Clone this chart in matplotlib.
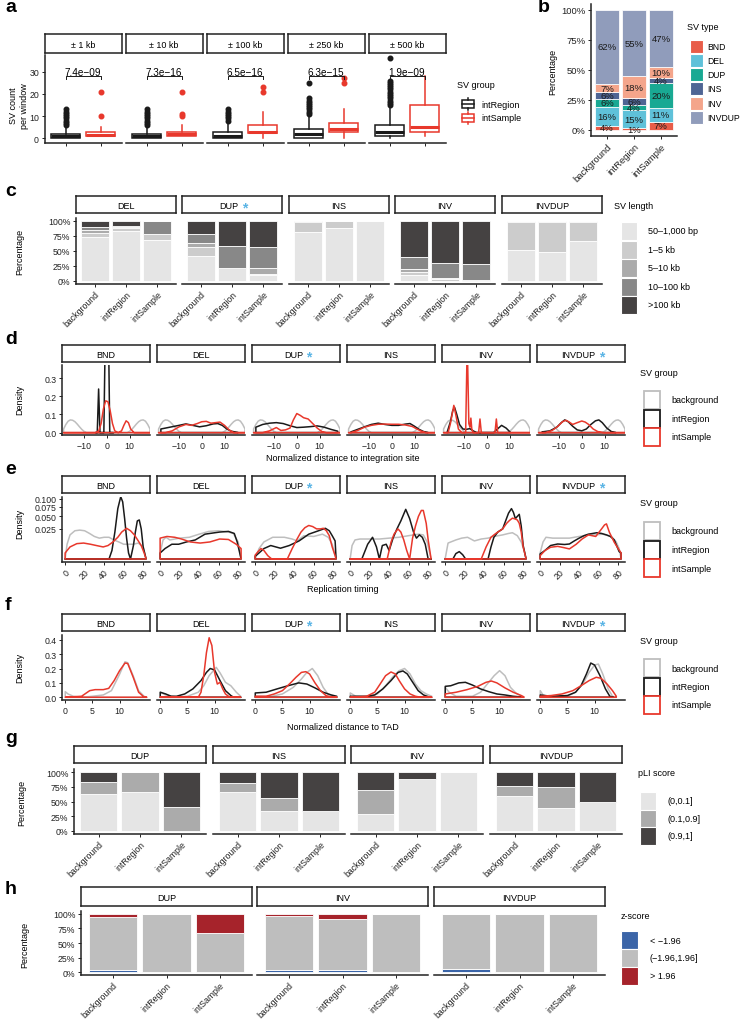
import numpy as np
import matplotlib
matplotlib.use('Agg')
import matplotlib.pyplot as plt
from matplotlib.patches import Rectangle
from matplotlib.lines import Line2D
from matplotlib.ticker import NullLocator

plt.rcParams['font.family'] = ['Liberation Sans', 'DejaVu Sans']
plt.rcParams['font.size'] = 6.5

# --- 1. data ---
groups = ['background', 'intRegion', 'intSample']
sv_types = ['BND', 'DEL', 'DUP', 'INS', 'INV', 'INVDUP']
starred_c = ['DUP']
starred_def = ['DUP', 'INVDUP']

# a: SV count per window (box stats: whislo, q1, median, q3, whishi)
windows = ['± 1 kb', '± 10 kb', '± 100 kb', '± 250 kb', '± 500 kb']
p_values = ['7.4e\u221209', '7.3e\u221216', '6.5e\u221216', '6.3e\u221215', '1.9e\u221209']
p_height = 28
region_box = [[0, 0, 1, 2, 5], [0, 0, 1, 2, 5], [0, 0, 1, 3, 7], [0, 0, 2, 4, 10], [0, 1, 3, 6, 14]]
sample_box = [[1, 1, 1.5, 3, 5], [1, 1, 2, 3, 6], [0, 2.5, 3, 6, 12], [0, 3, 4, 7, 13], [1, 3, 5, 15, 28]]
region_out = [[6, 7, 8, 9, 10, 11, 12, 13],
              [6, 7, 8, 9, 10, 11, 12, 13],
              [8, 9, 10, 11, 12, 13],
              [11, 12, 13, 14, 15, 16, 17, 18, 25],
              [15, 16, 17, 18, 19, 20, 21, 22, 23, 24, 25, 26, 36]]
sample_out = [[10, 21], [10, 11, 21], [21, 23], [25, 27], []]

# b: SV type share (%) per group, order of sv_types
type_share = [[3.7, 15.8, 6.2, 5.9, 6.6, 61.8],
              [1.3, 15.2, 4.3, 5.9, 17.9, 55.4],
              [6.9, 11.4, 20.4, 4.2, 9.7, 47.4]]

# c: SV length share (%) per type and group
length_bins = ['50\u20131,000 bp', '1\u20135 kb', '5\u201310 kb', '10\u2013100 kb', '>100 kb']
length_types = ['DEL', 'DUP', 'INS', 'INV', 'INVDUP']
length_share = {
    'DEL': [[72, 8, 5, 5, 10], [82, 5, 2, 2, 9], [68, 9, 0, 23, 0]],
    'DUP': [[41, 15, 6, 15, 23], [21, 0, 0, 36, 43], [9, 2, 10, 35, 44]],
    'INS': [[81, 16, 1, 1, 1], [88, 12, 0, 0, 0], [100, 0, 0, 0, 0]],
    'INV': [[9, 6, 5, 19, 61], [0, 2, 2, 26, 70], [0, 0, 1, 26, 73]],
    'INVDUP': [[51, 46, 2, 1, 0], [47, 51, 2, 0, 0], [66, 32, 2, 0, 0]],
}

# d: density of normalized distance to integration site
d_bg_x = [-19, -18, -17, -16, -15, -14, -13, -12, -11, -10, -9, 9, 10, 11, 12, 13, 14, 15, 16, 17, 18, 19]
d_bg_y = [0.02, 0.045, 0.063, 0.07, 0.068, 0.06, 0.047, 0.032, 0.018, 0.007, 0.0,
          0.0, 0.007, 0.018, 0.032, 0.047, 0.06, 0.068, 0.07, 0.063, 0.045, 0.02]
d_region = {
    'BND': ([-5, -4.2, -3.6, -3.0, -1.3, -0.6, 0.7, 1.3, 3], [0, 0, 0.24, 0, 0, 0.6, 0.6, 0, 0]),
    'DEL': ([-18, -14, -10, -7, -4, -1, 2, 5, 7, 9, 11, 13, 16],
            [0.02, 0.03, 0.04, 0.048, 0.04, 0.032, 0.038, 0.048, 0.05, 0.04, 0.02, 0.008, 0]),
    'DUP': ([-18, -15, -12, -9, -6, -3, 0, 3, 6, 9, 12, 15, 18],
            [0.03, 0.045, 0.052, 0.055, 0.05, 0.038, 0.028, 0.03, 0.033, 0.037, 0.03, 0.018, 0.008]),
    'INS': ([-18, -15, -12, -9, -6, -3, 0, 3, 6, 8, 10, 12, 14, 16],
            [0.004, 0.018, 0.032, 0.045, 0.052, 0.045, 0.04, 0.04, 0.047, 0.05, 0.035, 0.018, 0.006, 0]),
    'INV': ([-17.5, -16, -15, -14.2, -13.2, -12, -10.5, -9, -7.5, -6, -4.5, 3, 4.5, 6.5, 8.5, 10.5],
            [0, 0.06, 0.12, 0.14, 0.1, 0.045, 0.02, 0.018, 0.022, 0.01, 0, 0, 0.018, 0.04, 0.025, 0]),
    'INVDUP': ([-17.5, -14, -11, -9, -7.5, -6, -4, -2, 0, 2, 4, 6, 7.5, 9, 11, 13, 15],
               [0.004, 0.01, 0.03, 0.055, 0.07, 0.06, 0.035, 0.015, 0.01, 0.02, 0.045, 0.065, 0.07, 0.055, 0.025, 0.006, 0]),
}
d_sample = {
    'BND': ([-19, -5, -3.5, -2.5, -1.5, -0.5, 0.5, 1.5, 2.5, 3.5, 5, 6.5, 7.5, 8.5, 9.5, 10.5, 12, 19],
            [0, 0, 0.01, 0.05, 0.13, 0.175, 0.17, 0.12, 0.05, 0.01, 0, 0.01, 0.04, 0.065, 0.055, 0.02, 0, 0]),
    'DEL': ([-19, -16, -13, -10, -7, -4.5, -2, 0, 2, 4, 6, 8, 10, 12, 14, 19],
            [0, 0, 0.01, 0.032, 0.045, 0.04, 0.05, 0.06, 0.062, 0.052, 0.055, 0.058, 0.04, 0.015, 0, 0]),
    'DUP': ([-19, -15, -12, -9, -7, -5, -3, -1.5, 0, 1.5, 3, 5, 7, 9, 11, 13, 19],
            [0, 0, 0.01, 0.028, 0.012, 0.015, 0.025, 0.07, 0.105, 0.095, 0.082, 0.075, 0.05, 0.025, 0.006, 0, 0]),
    'INS': ([-19, -18, -15, -12, -9, -6, -3, 0, 3, 6, 9, 11, 13, 15, 19],
            [0, 0, 0.012, 0.03, 0.04, 0.046, 0.047, 0.046, 0.046, 0.042, 0.034, 0.02, 0.008, 0, 0]),
    'INV': ([-19, -17, -16, -14.5, -13.5, -12.5, -11, -9.3, -8.6, -7.9, -7.4, -7, -6.6, -6, -3.6, -3,
             -2.4, 3.6, 4.2, 4.8, 6, 19],
            [0, 0, 0.05, 0.15, 0.09, 0.02, 0, 0, 0.5, 0.05, 0.03, 0.08, 0.02, 0, 0, 0.075,
             0, 0, 0.075, 0, 0, 0]),
    'INVDUP': ([-19, -16, -13, -10.5, -8.5, -7, -5.5, -4, -2, 0, 1.5, 3, 5, 7, 9.5, 19],
               [0, 0, 0.012, 0.035, 0.06, 0.068, 0.058, 0.045, 0.055, 0.064, 0.058, 0.045, 0.02, 0.006, 0, 0]),
}

# e: density of replication timing
e_background = {
    'BND': ([0, 2, 5, 10, 15, 20, 25, 30, 35, 40, 45, 50, 55, 60, 65, 70, 75, 80, 83],
            [0, 0.006, 0.016, 0.022, 0.023, 0.022, 0.018, 0.014, 0.012, 0.013, 0.013, 0.01, 0.008,
             0.006, 0.006, 0.006, 0.007, 0.004, 0]),
    'DEL': ([0, 3, 6, 10, 15, 20, 30, 40, 50, 60, 70, 75, 80, 83],
            [0.001, 0.01, 0.013, 0.01, 0.011, 0.012, 0.013, 0.017, 0.021, 0.022, 0.02, 0.018, 0.008, 0]),
    'DUP': ([0, 4, 9, 18, 30, 38, 43, 50, 60, 69, 75, 79, 83],
            [0.0, 0.003, 0.008, 0.013, 0.013, 0.011, 0.009, 0.015, 0.014, 0.017, 0.013, 0.006, 0]),
    'INS': ([0, 2, 5, 10, 20, 30, 40, 50, 60, 65, 70, 75, 79, 83],
            [0, 0.005, 0.01, 0.011, 0.011, 0.011, 0.012, 0.013, 0.015, 0.016, 0.017, 0.016, 0.008, 0]),
    'INV': ([0, 3, 11, 17, 23, 30, 37, 44, 50, 59, 65, 69, 74, 78, 81, 83],
            [0, 0.007, 0.01, 0.012, 0.013, 0.009, 0.011, 0.012, 0.014, 0.016, 0.018, 0.019, 0.015,
             0.008, 0.002, 0]),
    'INVDUP': ([0, 3, 6, 13, 20, 30, 40, 49.5, 57, 64, 70, 74, 78, 81, 83],
               [0.001, 0.008, 0.013, 0.012, 0.012, 0.012, 0.014, 0.016, 0.016, 0.017, 0.015, 0.013,
                0.008, 0.003, 0]),
}
e_region = {
    'BND': ([0, 45, 48, 51, 54, 57, 59, 61, 63, 65, 67, 70, 72, 74, 76, 78, 80, 83],
            [0, 0, 0.002, 0.02, 0.07, 0.107, 0.09, 0.045, 0.012, 0.001, 0, 0.005, 0.02, 0.04, 0.042,
             0.025, 0.004, 0]),
    'DEL': ([0, 5, 12, 19, 27, 36, 46, 51, 61, 70, 76, 79, 83],
            [0.001, 0.003, 0.006, 0.006, 0.008, 0.01, 0.017, 0.018, 0.02, 0.021, 0.018, 0.008, 0]),
    'DUP': ([0, 4, 9, 16, 26, 35, 45, 55, 65, 72, 76, 79, 82, 83],
            [0.0002, 0.001, 0.003, 0.005, 0.0032, 0.005, 0.009, 0.017, 0.022, 0.026, 0.022, 0.015,
             0.009, 0]),
    'INS': ([0, 12, 18, 23, 27, 30, 33, 37, 40, 44, 48, 52, 57, 61, 65, 68, 71, 74, 77, 80, 83],
            [0, 0, 0.006, 0.013, 0.004, 0, 0.005, 0.006, 0.002, 0.012, 0.025, 0.04, 0.068, 0.045,
             0.02, 0.012, 0.016, 0.013, 0.006, 0, 0]),
    'INV': ([0, 8, 11, 14.5, 18, 21, 44, 47, 50, 54, 59, 62, 65, 68, 70, 72, 74, 76, 78, 80, 83],
            [0, 0, 0.0008, 0.0015, 0.0005, 0, 0, 0.004, 0.013, 0.02, 0.025, 0.04, 0.058, 0.07, 0.06,
             0.045, 0.05, 0.055, 0.03, 0.005, 0]),
    'INVDUP': ([0, 5, 10.7, 18, 25, 30, 35, 40, 45, 49.5, 54, 58, 63, 68, 72, 76, 79, 81, 83],
               [0.0007, 0.002, 0.005, 0.0062, 0.0058, 0.0062, 0.009, 0.012, 0.015, 0.017, 0.018, 0.019,
                0.018, 0.016, 0.014, 0.01, 0.004, 0.0015, 0.001]),
}
e_sample = {
    'BND': ([0, 5, 12, 19, 26, 32, 39, 44, 49, 54, 58, 63, 67, 71, 75, 78, 81, 83],
            [0.001, 0.004, 0.0065, 0.007, 0.006, 0.005, 0.004, 0.005, 0.008, 0.013, 0.02, 0.026,
             0.022, 0.016, 0.009, 0.005, 0.001, 0]),
    'DEL': ([0, 7, 15, 22, 31, 41, 51, 61, 70, 78, 83],
            [0.012, 0.014, 0.013, 0.011, 0.008, 0.007, 0.008, 0.011, 0.0105, 0.006, 0.003]),
    'DUP': ([0, 3, 6, 9, 13, 17, 25, 33, 38, 43, 47, 51, 55, 59, 63, 67, 70, 73, 76, 79, 82, 83],
            [0.0004, 0.0015, 0.003, 0.002, 0.0003, 0, 0, 0, 0.003, 0.011, 0.02, 0.027, 0.031, 0.029,
             0.025, 0.025, 0.026, 0.022, 0.015, 0.004, 0.0003, 0]),
    'INS': ([0, 38, 42, 45, 49, 52, 55, 58, 61, 64, 67, 70, 73, 75, 78, 80, 83],
            [0, 0, 0.008, 0.017, 0.025, 0.02, 0.01, 0.002, 0, 0.012, 0.03, 0.05, 0.065, 0.065, 0.035,
             0.01, 0]),
    'INV': ([0, 37, 42, 47, 51, 54, 59, 63, 66, 69, 72, 74, 76, 78, 80, 83],
            [0, 0, 0.004, 0.013, 0.017, 0.02, 0.025, 0.035, 0.041, 0.046, 0.044, 0.042, 0.035, 0.02,
             0.004, 0]),
    'INVDUP': ([0, 5, 10.7, 18, 24, 30, 37, 43, 49.5, 57, 63, 66, 68, 71, 76, 80, 83],
               [0.0003, 0.002, 0.0038, 0.0044, 0.0036, 0.0028, 0.006, 0.011, 0.016, 0.014, 0.025,
                0.032, 0.034, 0.0197, 0.0077, 0.003, 0.001]),
}

# f: density of normalized distance to TAD
f_background = {
    'BND': ([0, 0.5, 1.5, 3, 5, 7, 8.5, 10, 11, 11.5, 12.5, 13.5, 14.5, 15],
            [0.039, 0.023, 0.007, 0, 0.007, 0.016, 0.046, 0.16, 0.247, 0.24, 0.15, 0.046, 0.007, 0]),
    'DEL': ([0, 1, 3, 5, 7, 8, 9, 10.3, 11, 12, 13, 14, 14.8],
            [0.035, 0.016, 0.002, 0.007, 0.035, 0.08, 0.15, 0.208, 0.17, 0.104, 0.08, 0.035, 0.007]),
    'DUP': ([0, 3, 5, 7, 8.5, 9.5, 10.5, 11.5, 12.5, 13.5, 14.5],
            [0.007, 0.007, 0.023, 0.069, 0.127, 0.173, 0.2, 0.15, 0.069, 0.016, 0.007]),
    'INS': ([0, 1, 3, 5, 6.5, 8, 9, 10, 11, 12, 13, 14, 15],
            [0.03, 0.007, 0.002, 0.023, 0.08, 0.15, 0.185, 0.2, 0.162, 0.092, 0.046, 0.023, 0.007]),
    'INV': ([0, 0.7, 2, 5, 6.5, 8, 9, 10, 11, 12, 13, 14],
            [0.069, 0.035, 0.007, 0.007, 0.035, 0.104, 0.15, 0.185, 0.15, 0.069, 0.03, 0.007]),
    'INVDUP': ([0, 0.5, 1.5, 5, 6.5, 8, 9, 10, 10.7, 11.5, 12.5, 13.3, 14],
               [0.046, 0.016, 0.002, 0.007, 0.035, 0.104, 0.173, 0.224, 0.231, 0.162, 0.058, 0.007, 0]),
}
f_region = {
    'DEL': ([0, 1, 2, 3, 4.5, 6, 7.5, 8.5, 9.2, 10, 11, 12, 13, 13.5, 14.8],
            [0.035, 0.023, 0.007, 0.007, 0.023, 0.058, 0.116, 0.173, 0.2, 0.19, 0.116, 0.046, 0.012, 0, 0]),
    'DUP': ([0, 2, 4, 6, 8, 9.5, 11, 12.5, 14, 15],
            [0.03, 0.035, 0.058, 0.08, 0.1, 0.092, 0.065, 0.035, 0.016, 0.007]),
    'INS': ([0, 3, 4.5, 6, 7.5, 8.8, 9.7, 10.5, 11.5, 12.5, 13.5, 14.5],
            [0.007, 0.007, 0.016, 0.058, 0.116, 0.173, 0.183, 0.162, 0.104, 0.046, 0.016, 0.002]),
    'INV': ([0, 1, 2.5, 3.7, 5, 6.5, 8, 9.5, 11, 12.5, 14],
            [0.076, 0.08, 0.1, 0.104, 0.085, 0.058, 0.039, 0.023, 0.016, 0.007, 0.002]),
    'INVDUP': ([0, 2, 5, 6.5, 7.5, 8.5, 9.3, 10, 11, 12, 12.8, 13.5],
               [0.016, 0.007, 0.012, 0.035, 0.08, 0.162, 0.238, 0.224, 0.15, 0.058, 0.007, 0]),
}
f_sample = {
    'BND': ([0, 3, 4.5, 5.5, 7, 8, 9, 10, 11, 11.5, 12.5, 13.5, 14.5, 15],
            [0, 0.007, 0.046, 0.053, 0.053, 0.062, 0.116, 0.185, 0.238, 0.235, 0.14, 0.035, 0.002, 0]),
    'DEL': ([0, 7, 7.5, 8, 8.5, 9, 9.5, 10, 10.5, 11, 11.5, 12, 12.8, 14.8],
            [0, 0, 0.035, 0.15, 0.31, 0.414, 0.36, 0.173, 0.092, 0.104, 0.058, 0.023, 0, 0]),
    'DUP': ([0, 2, 3.5, 5, 6.5, 7.5, 8.5, 9.3, 10, 11, 12, 13, 14, 15],
            [0.007, 0.007, 0.023, 0.046, 0.1, 0.139, 0.173, 0.178, 0.162, 0.1, 0.046, 0.012, 0, 0]),
    'INS': ([0, 3, 4.5, 5.5, 6.5, 7.5, 8.3, 9, 10, 11, 12, 13, 15],
            [0, 0.007, 0.035, 0.092, 0.15, 0.176, 0.162, 0.116, 0.058, 0.023, 0.007, 0, 0]),
    'INV': ([0, 2, 4, 6, 7.5, 8.5, 9.5, 11, 12.5, 14, 14.5],
            [0.023, 0.035, 0.053, 0.076, 0.104, 0.113, 0.1, 0.065, 0.035, 0.012, 0.002]),
    'INVDUP': ([0, 2, 4, 6, 7.5, 9, 10.3, 11.2, 12.3, 13.3, 14],
               [0.007, 0.012, 0.023, 0.046, 0.08, 0.116, 0.139, 0.132, 0.092, 0.046, 0.007]),
}

# g: pLI score share (%)
pli_bins = ['(0,0.1]', '(0.1,0.9]', '(0.9,1]']
pli_types = ['DUP', 'INS', 'INV', 'INVDUP']
pli_share = {
    'DUP': [[63, 20, 17], [67, 33, 0], [0, 40, 60]],
    'INS': [[67, 14, 19], [33, 23, 44], [33, 0, 67]],
    'INV': [[29, 40, 31], [88, 0, 12], [100, 0, 0]],
    'INVDUP': [[60, 17, 23], [39, 35, 26], [50, 0, 50]],
}

# h: z-score share (%)
z_bins = ['< \u22121.96', '(\u22121.96,1.96]', '> 1.96']
z_types = ['DUP', 'INV', 'INVDUP']
z_share = {
    'DUP': [[3, 92, 5], [0, 100, 0], [0, 67, 33]],
    'INV': [[3, 94, 3], [3, 89, 8], [0, 100, 0]],
    'INVDUP': [[5, 94, 1], [1, 99, 0], [0, 100, 0]],
}

# --- 2. styles ---
RED = '#E8382C'
BLACK = '#1A1A1A'
GREY = '#BEBEBE'
STAR = '#5AB4E5'
type_colors = ['#E64B35', '#4DBBD5', '#00A087', '#3C5488', '#F39B7F', '#8491B4']
length_colors = ['#E5E5E5', '#CCCCCC', '#ABABAB', '#888888', '#454242']
pli_colors = ['#E5E5E5', '#ABABAB', '#454242']
z_colors = ['#3B65A8', '#BEBEBE', '#A6232B']
pct_ticks = [0, 0.25, 0.5, 0.75, 1.0]
pct_labels = ['0%', '25%', '50%', '75%', '100%']

# --- 3. figure and helpers (pixel coordinates, top-left origin) ---
W, H = 743, 1020
fig = plt.figure(figsize=(W / 100, H / 100), dpi=100)


def fx(x):
    return x / W


def fy(y):
    return 1 - y / H


def box(x0, y0, x1, y1):
    return fig.add_axes([fx(x0), fy(y1), (x1 - x0) / W, (y1 - y0) / H])


def style(ax, first):
    for s in ['top', 'right']:
        ax.spines[s].set_visible(False)
    for s in ['bottom', 'left']:
        ax.spines[s].set_linewidth(1.1)
        ax.spines[s].set_color('#222222')
    ax.tick_params(length=2.5, width=0.7, colors='#222222', labelsize=6.3, pad=1.5)
    if not first:
        ax.spines['left'].set_visible(False)
        ax.tick_params(axis='y', left=False, labelleft=False)
    ax.set_facecolor('none')


def strip(x0, x1, y0, y1, label, star=False):
    s = box(x0, y0, x1, y1)
    s.set_xticks([])
    s.set_yticks([])
    for sp in s.spines.values():
        sp.set_linewidth(1.1)
        sp.set_color('#222222')
    if star:
        t = s.text(0.47, 0.45, label, ha='center', va='center', fontsize=6.5)
        s.annotate('*', xy=(1, 0.5), xycoords=t, xytext=(2.5, -1.5), textcoords='offset points',
                   ha='left', va='center', color=STAR, fontsize=10, fontweight='bold')
    else:
        s.text(0.5, 0.45, label, ha='center', va='center', fontsize=6.5)


def legend(title, tx, ty, labels, faces, edges, kx0, kx1, cy0, step, kh, lx, lw=0.8, size=6.5):
    fig.text(fx(tx), fy(ty), title, ha='left', va='center', fontsize=6.5)
    for i, (lab, fc, ec) in enumerate(zip(labels, faces, edges)):
        cy = cy0 + i * step
        fig.add_artist(Rectangle((fx(kx0), fy(cy + kh / 2)), (kx1 - kx0) / W, kh / H,
                                 transform=fig.transFigure, facecolor=fc, edgecolor=ec, lw=lw))
        fig.text(fx(lx), fy(cy), lab, ha='left', va='center', fontsize=size)


def ylabel(x, y, text):
    fig.text(fx(x), fy(y), text, rotation=90, ha='center', va='center', fontsize=6.5,
             multialignment='center')


def panel_tag(x, y, tag):
    fig.text(fx(x), fy(y), tag, ha='left', va='center', fontsize=14, fontweight='bold')


def fill_bars(ax, shares, colors):
    shares = np.array(shares, dtype=float)
    shares = shares / shares.sum(axis=1, keepdims=True)
    pos = np.arange(len(shares))
    bottom = np.zeros(len(shares))
    for k, col in enumerate(colors):
        ax.bar(pos, shares[:, k], bottom=bottom, width=0.9, color=col, edgecolor='white', linewidth=0.6)
        bottom += shares[:, k]
    ax.set_xlim(-0.6, len(shares) - 0.4)
    ax.set_ylim(-0.05, 1.05)
    ax.set_yticks(pct_ticks)
    ax.set_yticklabels(pct_labels)
    ax.set_xticks(pos)
    ax.set_xticklabels(groups, rotation=45, ha='right', rotation_mode='anchor', fontsize=6.3)
    return shares


def sqrt_fwd(v):
    return np.sign(v) * np.sqrt(np.abs(v))


def sqrt_inv(u):
    return np.sign(u) * u ** 2


def density_row(top, bottom, strip_top, bg, region, sample, xlim, ylim, xticks, xticklabels,
                yticks, yticklabels, rot=0, sqrt=False):
    lefts = [62, 157, 252, 347, 442, 537]
    for i, t in enumerate(sv_types):
        x0 = lefts[i]
        ax = box(x0, top, x0 + 88, bottom)
        if sqrt:
            ax.set_yscale('function', functions=(sqrt_fwd, sqrt_inv))
        for data, col in ((bg, GREY), (region, BLACK), (sample, RED)):
            if t in data:
                xs, ys = data[t]
                ax.fill(list(xs) + [xs[-1], xs[0]], list(ys) + [0, 0], facecolor='none',
                        edgecolor=col, lw=1.1, joinstyle='round')
        ax.set_xlim(*xlim)
        ax.set_ylim(*ylim)
        ax.set_xticks(xticks)
        if rot:
            ax.set_xticklabels(xticklabels, rotation=rot, ha='right', rotation_mode='anchor')
        else:
            ax.set_xticklabels(xticklabels)
        ax.set_yticks(yticks)
        ax.set_yticklabels(yticklabels)
        ax.yaxis.set_minor_locator(NullLocator())
        style(ax, i == 0)
        strip(x0, x0 + 88, strip_top, strip_top + 16.5, t, t in starred_def)


# --- 4. panel a ---
panel_tag(5, 8, 'a')
a_lefts = [44.5, 125.5, 206.5, 287.5, 368.5]
for i, win in enumerate(windows):
    x0 = a_lefts[i]
    ax = box(x0, 56, x0 + 77, 144)
    for pos, stats, outs, col in ((1, region_box[i], region_out[i], BLACK),
                                  (2, sample_box[i], sample_out[i], RED)):
        st = dict(whislo=stats[0], q1=stats[1], med=stats[2], q3=stats[3], whishi=stats[4],
                  fliers=outs)
        ax.bxp([st], positions=[pos], widths=0.82, showcaps=False, patch_artist=True,
               boxprops=dict(facecolor='white', edgecolor=col, lw=1.1),
               whiskerprops=dict(color=col, lw=1.1),
               medianprops=dict(color=col, lw=2.2),
               flierprops=dict(marker='o', markerfacecolor=col, markeredgecolor=col, markersize=3.3))
    ax.plot([1, 1, 2, 2], [p_height - 1.2, p_height, p_height, p_height - 1.2], color=BLACK, lw=0.7)
    ax.text(1.5, p_height + 1.8, p_values[i], ha='center', va='center', fontsize=7.2)
    ax.set_xlim(0.4, 2.6)
    ax.set_ylim(-2.1, 37.5)
    ax.set_xticks([1, 2])
    ax.set_xticklabels(['', ''])
    ax.set_yticks([0, 10, 20, 30])
    style(ax, i == 0)
    strip(x0, x0 + 77, 35, 54, win)
ylabel(19, 106, 'SV count\nper window')
fig.text(fx(457), fy(86), 'SV group', ha='left', va='center', fontsize=6.5)
for k, (lab, col) in enumerate((('intRegion', BLACK), ('intSample', RED))):
    cy = 105 + 13.5 * k
    fig.add_artist(Rectangle((fx(462), fy(cy + 4)), 12 / W, 8 / H, transform=fig.transFigure,
                             facecolor='white', edgecolor=col, lw=1.1))
    fig.add_artist(Line2D([fx(462), fx(474)], [fy(cy), fy(cy)], transform=fig.transFigure, color=col, lw=1.1))
    fig.add_artist(Line2D([fx(468), fx(468)], [fy(cy - 6), fy(cy - 4)], transform=fig.transFigure, color=col, lw=1.1))
    fig.add_artist(Line2D([fx(468), fx(468)], [fy(cy + 4), fy(cy + 6)], transform=fig.transFigure, color=col, lw=1.1))
    fig.text(fx(481), fy(cy), lab, ha='left', va='center', fontsize=6.5)

# --- 5. panel b ---
panel_tag(538, 8, 'b')
ax = box(591, 4.7, 677, 137)
shares = fill_bars(ax, type_share, type_colors)
for bar in ax.patches:
    bar.set_alpha(0.9)
for g in range(len(groups)):
    cum = np.cumsum(shares[g])
    mids = cum - shares[g] / 2
    for k in range(len(sv_types)):
        ax.text(g, mids[k], f'{round(type_share[g][k])}%', ha='center', va='center', fontsize=6.8,
                color='#1A1A1A')
style(ax, True)
ax.tick_params(labelsize=6.8)
ylabel(553, 72, 'Percentage')
legend('SV type', 687, 27, sv_types, [matplotlib.colors.to_rgba(c, 0.9) for c in type_colors],
       ['white'] * 6, 690, 703, 47, 14.3, 13, 707, size=6.2)

# --- 6. panel c ---
panel_tag(5, 191, 'c')
c_lefts = [76, 182, 289, 395, 502]
for i, t in enumerate(length_types):
    x0 = c_lefts[i]
    ax = box(x0, 218.5, x0 + 100, 284.7)
    fill_bars(ax, length_share[t], length_colors)
    style(ax, i == 0)
    strip(x0, x0 + 100, 197, 214, t, t in starred_c)
ylabel(20, 252, 'Percentage')
legend('SV length', 614, 207, length_bins, length_colors, ['white'] * 5, 621, 637, 232, 18.5, 18, 648)

# --- 7. panels d, e, f ---
panel_tag(5, 340, 'd')
d_background = {t: (d_bg_x, d_bg_y) for t in sv_types}
density_row(366, 436, 346, d_background, d_region, d_sample, (-19.7, 19), (-0.013, 0.372),
            [-10, 0, 10], ['\u221210', '0', '10'], [0, 0.1, 0.2, 0.3], ['0.0', '0.1', '0.2', '0.3'])
ylabel(20, 400, 'Density')
fig.text(fx(343), fy(459), 'Normalized distance to integration site', ha='center', va='center', fontsize=6.5)
legend('SV group', 640, 374, groups, ['white'] * 3, [GREY, BLACK, RED], 644, 660, 401, 18.5, 18, 671, lw=1.3)

panel_tag(5, 470, 'e')
density_row(498, 563, 477, e_background, e_region, e_sample, (-3.2, 87), (-0.00025, 0.106),
            [0, 20, 40, 60, 80], ['0', '20', '40', '60', '80'],
            [0.025, 0.05, 0.075, 0.1], ['0.025', '0.050', '0.075', '0.100'], rot=45, sqrt=True)
ylabel(20, 524, 'Density')
fig.text(fx(343), fy(590), 'Replication timing', ha='center', va='center', fontsize=6.5)
legend('SV group', 640, 503, groups, ['white'] * 3, [GREY, BLACK, RED], 644, 660, 532, 18.5, 18, 671, lw=1.3)

panel_tag(5, 606, 'f')
density_row(636, 701, 615, f_background, f_region, f_sample, (-0.6, 15.6), (-0.019, 0.433),
            [0, 5, 10], ['0', '5', '10'], [0, 0.1, 0.2, 0.3, 0.4], ['0.0', '0.1', '0.2', '0.3', '0.4'])
ylabel(20, 668, 'Density')
fig.text(fx(343), fy(727), 'Normalized distance to TAD', ha='center', va='center', fontsize=6.5)
legend('SV group', 640, 642, groups, ['white'] * 3, [GREY, BLACK, RED], 644, 660, 669, 18.5, 18, 671, lw=1.3)

# --- 8. panel g ---
panel_tag(5, 739, 'g')
g_lefts = [74, 213, 351, 490]
for i, t in enumerate(pli_types):
    x0 = g_lefts[i]
    ax = box(x0, 770.4, x0 + 132, 834.6)
    fill_bars(ax, pli_share[t], pli_colors)
    style(ax, i == 0)
    strip(x0, x0 + 132, 747, 764, t)
ylabel(22, 803, 'Percentage')
legend('pLI score', 638, 774, pli_bins, pli_colors, ['white'] * 3, 640, 656, 802, 17.5, 17.5, 667)

# --- 9. panel h ---
panel_tag(5, 890, 'h')
h_lefts = [81, 257, 434]
for i, t in enumerate(z_types):
    x0 = h_lefts[i]
    ax = box(x0, 912, x0 + 171, 976)
    fill_bars(ax, z_share[t], z_colors)
    style(ax, i == 0)
    strip(x0, x0 + 171, 888, 907, t)
ylabel(25, 945, 'Percentage')
legend('z-score', 621, 917, z_bins, z_colors, ['white'] * 3, 621, 638, 941, 18, 18, 650)

fig.savefig('out.png', dpi=100)
